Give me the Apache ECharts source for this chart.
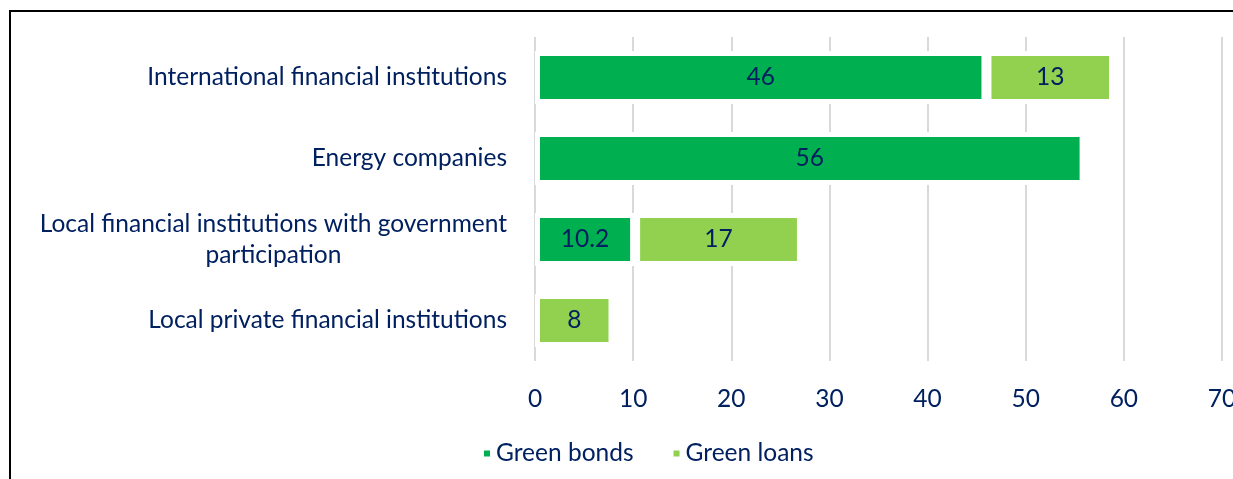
<!DOCTYPE html>
<html>
<head>
<meta charset="utf-8">
<script src="https://cdn.jsdelivr.net/npm/echarts@6/dist/echarts.min.js"></script>
<style>
  html, body { margin: 0; padding: 0; background: #fff; }
  #wrap { position: relative; width: 1233px; height: 479px; overflow: hidden; }
  #charts { width: 1233px; height: 479px; }
  #frame { position: absolute; left: 9px; top: 10px; right: -10px; bottom: -10px;
           border-top: 2px solid #000; border-left: 2px solid #000; pointer-events: none; }
</style>
</head>
<body>
<div id="wrap">
  <div id="charts"></div>
  <div id="frame"></div>
</div>
<script>
// data
var categories = [
    'International financial institutions',
    'Energy companies',
    'Local financial institutions with government\nparticipation',
    'Local private financial institutions'
];
var greenBonds = [46, 56, 10.2, null];
var greenLoans = [13, null, 17, 8];
var xTicks = [0, 70, 10]; // min, max, interval

var txt = '#002060';
var font = 'Lato';
var fs = 24.5;

var chart = echarts.init(document.getElementById('charts'));

function barSeries(name, data, color){
    return {
        name: name,
        type: 'bar',
        stack: 'total',
        barWidth: 53,
        data: data,
        itemStyle: { color: color, borderColor: '#fff', borderWidth: 5 },
        label: {
            show: true,
            position: 'inside',
            color: txt,
            fontFamily: font,
            fontSize: fs
        }
    };
}

var option = {
    animation: false,
    textStyle: { fontFamily: font },
    grid: { left: 535, right: 11, top: 37, bottom: 118, containLabel: false, outerBoundsMode: 'none' },
    legend: {
        data: ['Green bonds', 'Green loans'],
        left: 477,
        top: 436,
        icon: 'rect',
        itemWidth: 8,
        itemHeight: 8,
        itemGap: 38,
        textStyle: { color: txt, fontFamily: font, fontSize: fs }
    },
    xAxis: {
        type: 'value',
        min: xTicks[0],
        max: xTicks[1],
        interval: xTicks[2],
        axisLine: { show: false },
        axisTick: { show: false },
        axisLabel: { color: txt, fontFamily: font, fontSize: fs, margin: 26 },
        splitLine: { show: true, lineStyle: { color: '#d9d9d9', width: 2 } }
    },
    yAxis: {
        type: 'category',
        inverse: true,
        data: categories,
        axisLine: { show: false },
        axisTick: { show: false },
        axisLabel: {
            color: txt,
            fontFamily: font,
            fontSize: fs,
            margin: 28,
            lineHeight: 31,
            formatter: function(v){
                return v.split('\n').map(function(s){ return '{c|' + s + '}'; }).join('\n');
            },
            rich: {
                c: { color: txt, fontFamily: font, fontSize: fs, align: 'center', lineHeight: 31 }
            }
        }
    },
    series: [
        barSeries('Green bonds', greenBonds, '#00b050'),
        barSeries('Green loans', greenLoans, '#92d050')
    ]
};

chart.setOption(option);
</script>
</body>
</html>
